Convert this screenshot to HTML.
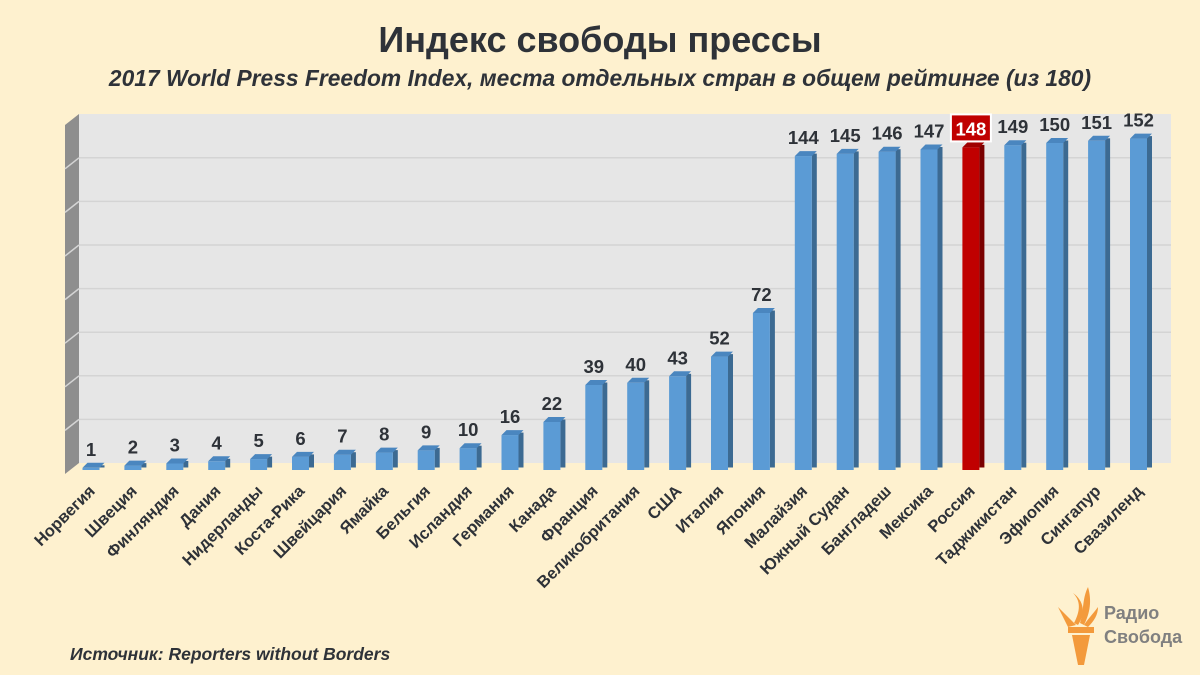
<!DOCTYPE html>
<html><head><meta charset="utf-8"><style>
html,body{margin:0;padding:0;background:#fef1cf;}
svg{display:block;font-family:"Liberation Sans","DejaVu Sans",sans-serif;}
.f{fill:#5b9bd5}.s{fill:#3c6a92}.t{fill:#4a86bf}
.v{font-size:18.5px;font-weight:bold;fill:#2e3238;text-anchor:middle}
.n{font-size:16.5px;font-weight:bold;fill:#2e3238;text-anchor:end}
.g line{stroke:#d4d4d4;stroke-width:1.5}
</style></head><body>
<svg width="1200" height="675" viewBox="0 0 1200 675" xmlns="http://www.w3.org/2000/svg">
<rect width="1200" height="675" fill="#fef1cf"/>
<text x="600" y="52" text-anchor="middle" font-size="36" font-weight="bold" fill="#2e3238">Индекс свободы прессы</text>
<text x="600" y="86" text-anchor="middle" font-size="22.8" font-weight="bold" font-style="italic" fill="#2e3238">2017 World Press Freedom Index, места  отдельных стран  в общем рейтинге  (из 180)</text>
<rect x="79" y="114" width="1092" height="349" fill="#e6e6e6"/>
<polygon points="65,125 79,114 79,463 65,474" fill="#8e8e8e"/>
<g class="g">
<line x1="79" y1="419.4" x2="1171" y2="419.4"/><line x1="65" y1="430.4" x2="79" y2="419.4"/>
<line x1="79" y1="375.8" x2="1171" y2="375.8"/><line x1="65" y1="386.8" x2="79" y2="375.8"/>
<line x1="79" y1="332.2" x2="1171" y2="332.2"/><line x1="65" y1="343.2" x2="79" y2="332.2"/>
<line x1="79" y1="288.6" x2="1171" y2="288.6"/><line x1="65" y1="299.6" x2="79" y2="288.6"/>
<line x1="79" y1="245" x2="1171" y2="245"/><line x1="65" y1="256" x2="79" y2="245"/>
<line x1="79" y1="201.4" x2="1171" y2="201.4"/><line x1="65" y1="212.4" x2="79" y2="201.4"/>
<line x1="79" y1="157.8" x2="1171" y2="157.8"/><line x1="65" y1="168.8" x2="79" y2="157.8"/>
</g>

<g transform="translate(91,467.8)"><rect class="s" x="8.5" y="-2.5" width="5" height="2.2"/><rect class="f" x="-8.5" y="0" width="17" height="2.2"/><polygon class="t" points="-8.5,0 -3.5,-5 13.5,-5 8.5,0"/><text class="v" y="-12">1</text></g>
<g transform="translate(132.9,465.6)"><rect class="s" x="8.5" y="-2.5" width="5" height="4.4"/><rect class="f" x="-8.5" y="0" width="17" height="4.4"/><polygon class="t" points="-8.5,0 -3.5,-5 13.5,-5 8.5,0"/><text class="v" y="-12">2</text></g>
<g transform="translate(174.8,463.5)"><rect class="s" x="8.5" y="-2.5" width="5" height="6.5"/><rect class="f" x="-8.5" y="0" width="17" height="6.5"/><polygon class="t" points="-8.5,0 -3.5,-5 13.5,-5 8.5,0"/><text class="v" y="-12">3</text></g>
<g transform="translate(216.7,461.3)"><rect class="s" x="8.5" y="-2.5" width="5" height="8.7"/><rect class="f" x="-8.5" y="0" width="17" height="8.7"/><polygon class="t" points="-8.5,0 -3.5,-5 13.5,-5 8.5,0"/><text class="v" y="-12">4</text></g>
<g transform="translate(258.6,459.1)"><rect class="s" x="8.5" y="-2.5" width="5" height="10.9"/><rect class="f" x="-8.5" y="0" width="17" height="10.9"/><polygon class="t" points="-8.5,0 -3.5,-5 13.5,-5 8.5,0"/><text class="v" y="-12">5</text></g>
<g transform="translate(300.5,456.9)"><rect class="s" x="8.5" y="-2.5" width="5" height="13.1"/><rect class="f" x="-8.5" y="0" width="17" height="13.1"/><polygon class="t" points="-8.5,0 -3.5,-5 13.5,-5 8.5,0"/><text class="v" y="-12">6</text></g>
<g transform="translate(342.4,454.7)"><rect class="s" x="8.5" y="-2.5" width="5" height="15.3"/><rect class="f" x="-8.5" y="0" width="17" height="15.3"/><polygon class="t" points="-8.5,0 -3.5,-5 13.5,-5 8.5,0"/><text class="v" y="-12">7</text></g>
<g transform="translate(384.3,452.6)"><rect class="s" x="8.5" y="-2.5" width="5" height="17.4"/><rect class="f" x="-8.5" y="0" width="17" height="17.4"/><polygon class="t" points="-8.5,0 -3.5,-5 13.5,-5 8.5,0"/><text class="v" y="-12">8</text></g>
<g transform="translate(426.2,450.4)"><rect class="s" x="8.5" y="-2.5" width="5" height="19.6"/><rect class="f" x="-8.5" y="0" width="17" height="19.6"/><polygon class="t" points="-8.5,0 -3.5,-5 13.5,-5 8.5,0"/><text class="v" y="-12">9</text></g>
<g transform="translate(468.1,448.2)"><rect class="s" x="8.5" y="-2.5" width="5" height="21.8"/><rect class="f" x="-8.5" y="0" width="17" height="21.8"/><polygon class="t" points="-8.5,0 -3.5,-5 13.5,-5 8.5,0"/><text class="v" y="-12">10</text></g>
<g transform="translate(510,435.1)"><rect class="s" x="8.5" y="-2.5" width="5" height="34.9"/><rect class="f" x="-8.5" y="0" width="17" height="34.9"/><polygon class="t" points="-8.5,0 -3.5,-5 13.5,-5 8.5,0"/><text class="v" y="-12">16</text></g>
<g transform="translate(551.9,422)"><rect class="s" x="8.5" y="-2.5" width="5" height="48"/><rect class="f" x="-8.5" y="0" width="17" height="48"/><polygon class="t" points="-8.5,0 -3.5,-5 13.5,-5 8.5,0"/><text class="v" y="-12">22</text></g>
<g transform="translate(593.8,385)"><rect class="s" x="8.5" y="-2.5" width="5" height="85"/><rect class="f" x="-8.5" y="0" width="17" height="85"/><polygon class="t" points="-8.5,0 -3.5,-5 13.5,-5 8.5,0"/><text class="v" y="-12">39</text></g>
<g transform="translate(635.7,382.8)"><rect class="s" x="8.5" y="-2.5" width="5" height="87.2"/><rect class="f" x="-8.5" y="0" width="17" height="87.2"/><polygon class="t" points="-8.5,0 -3.5,-5 13.5,-5 8.5,0"/><text class="v" y="-12">40</text></g>
<g transform="translate(677.6,376.3)"><rect class="s" x="8.5" y="-2.5" width="5" height="93.7"/><rect class="f" x="-8.5" y="0" width="17" height="93.7"/><polygon class="t" points="-8.5,0 -3.5,-5 13.5,-5 8.5,0"/><text class="v" y="-12">43</text></g>
<g transform="translate(719.5,356.6)"><rect class="s" x="8.5" y="-2.5" width="5" height="113.4"/><rect class="f" x="-8.5" y="0" width="17" height="113.4"/><polygon class="t" points="-8.5,0 -3.5,-5 13.5,-5 8.5,0"/><text class="v" y="-12">52</text></g>
<g transform="translate(761.4,313)"><rect class="s" x="8.5" y="-2.5" width="5" height="157"/><rect class="f" x="-8.5" y="0" width="17" height="157"/><polygon class="t" points="-8.5,0 -3.5,-5 13.5,-5 8.5,0"/><text class="v" y="-12">72</text></g>
<g transform="translate(803.3,156.1)"><rect class="s" x="8.5" y="-2.5" width="5" height="313.9"/><rect class="f" x="-8.5" y="0" width="17" height="313.9"/><polygon class="t" points="-8.5,0 -3.5,-5 13.5,-5 8.5,0"/><text class="v" y="-12">144</text></g>
<g transform="translate(845.2,153.9)"><rect class="s" x="8.5" y="-2.5" width="5" height="316.1"/><rect class="f" x="-8.5" y="0" width="17" height="316.1"/><polygon class="t" points="-8.5,0 -3.5,-5 13.5,-5 8.5,0"/><text class="v" y="-12">145</text></g>
<g transform="translate(887.1,151.7)"><rect class="s" x="8.5" y="-2.5" width="5" height="318.3"/><rect class="f" x="-8.5" y="0" width="17" height="318.3"/><polygon class="t" points="-8.5,0 -3.5,-5 13.5,-5 8.5,0"/><text class="v" y="-12">146</text></g>
<g transform="translate(929,149.5)"><rect class="s" x="8.5" y="-2.5" width="5" height="320.5"/><rect class="f" x="-8.5" y="0" width="17" height="320.5"/><polygon class="t" points="-8.5,0 -3.5,-5 13.5,-5 8.5,0"/><text class="v" y="-12">147</text></g>
<g transform="translate(970.9,147.4)"><rect fill="#7a0000" x="8.5" y="-2.5" width="5" height="322.6"/><rect fill="#c00000" x="-8.5" y="0" width="17" height="322.6"/><polygon fill="#a00000" points="-8.5,0 -3.5,-5 13.5,-5 8.5,0"/><rect x="-20" y="-33" width="40" height="27" fill="#c00000" stroke="#fff" stroke-width="2"/><text class="v" y="-12" style="fill:#fff">148</text></g>
<g transform="translate(1012.8,145.2)"><rect class="s" x="8.5" y="-2.5" width="5" height="324.8"/><rect class="f" x="-8.5" y="0" width="17" height="324.8"/><polygon class="t" points="-8.5,0 -3.5,-5 13.5,-5 8.5,0"/><text class="v" y="-12">149</text></g>
<g transform="translate(1054.7,143)"><rect class="s" x="8.5" y="-2.5" width="5" height="327"/><rect class="f" x="-8.5" y="0" width="17" height="327"/><polygon class="t" points="-8.5,0 -3.5,-5 13.5,-5 8.5,0"/><text class="v" y="-12">150</text></g>
<g transform="translate(1096.6,140.8)"><rect class="s" x="8.5" y="-2.5" width="5" height="329.2"/><rect class="f" x="-8.5" y="0" width="17" height="329.2"/><polygon class="t" points="-8.5,0 -3.5,-5 13.5,-5 8.5,0"/><text class="v" y="-12">151</text></g>
<g transform="translate(1138.5,138.6)"><rect class="s" x="8.5" y="-2.5" width="5" height="331.4"/><rect class="f" x="-8.5" y="0" width="17" height="331.4"/><polygon class="t" points="-8.5,0 -3.5,-5 13.5,-5 8.5,0"/><text class="v" y="-12">152</text></g>

<text class="n" transform="translate(96,492) rotate(-45)">Норвегия</text>
<text class="n" transform="translate(137.9,492) rotate(-45)">Швеция</text>
<text class="n" transform="translate(179.8,492) rotate(-45)">Финляндия</text>
<text class="n" transform="translate(221.7,492) rotate(-45)">Дания</text>
<text class="n" transform="translate(263.6,492) rotate(-45)">Нидерланды</text>
<text class="n" transform="translate(305.5,492) rotate(-45)">Коста-Рика</text>
<text class="n" transform="translate(347.4,492) rotate(-45)">Швейцария</text>
<text class="n" transform="translate(389.3,492) rotate(-45)">Ямайка</text>
<text class="n" transform="translate(431.2,492) rotate(-45)">Бельгия</text>
<text class="n" transform="translate(473.1,492) rotate(-45)">Исландия</text>
<text class="n" transform="translate(515,492) rotate(-45)">Германия</text>
<text class="n" transform="translate(556.9,492) rotate(-45)">Канада</text>
<text class="n" transform="translate(598.8,492) rotate(-45)">Франция</text>
<text class="n" transform="translate(640.7,492) rotate(-45)">Великобритания</text>
<text class="n" transform="translate(682.6,492) rotate(-45)">США</text>
<text class="n" transform="translate(724.5,492) rotate(-45)">Италия</text>
<text class="n" transform="translate(766.4,492) rotate(-45)">Япония</text>
<text class="n" transform="translate(808.3,492) rotate(-45)">Малайзия</text>
<text class="n" transform="translate(850.2,492) rotate(-45)">Южный Судан</text>
<text class="n" transform="translate(892.1,492) rotate(-45)">Бангладеш</text>
<text class="n" transform="translate(934,492) rotate(-45)">Мексика</text>
<text class="n" transform="translate(975.9,492) rotate(-45)">Россия</text>
<text class="n" transform="translate(1017.8,492) rotate(-45)">Таджикистан</text>
<text class="n" transform="translate(1059.7,492) rotate(-45)">Эфиопия</text>
<text class="n" transform="translate(1101.6,492) rotate(-45)">Сингапур</text>
<text class="n" transform="translate(1143.5,492) rotate(-45)">Свазиленд</text>

<text x="70" y="660" font-size="17.5" font-weight="bold" font-style="italic" fill="#2e3238">Источник: Reporters without Borders</text>
<g transform="translate(1048,585)">
<path d="M10,22 L28,40 L20,42 Z" fill="#f39a3c"/>
<path d="M25,8 C35,18 30,30 26,38 L30,40 C38,28 36,16 25,8 Z" fill="#f39a3c"/>
<path d="M40,2 C34,14 36,26 32,38 L36,40 C42,28 44,16 40,2 Z" fill="#f39a3c"/>
<path d="M50,22 C44,30 40,34 36,40 L40,42 C46,36 50,30 50,22 Z" fill="#f39a3c"/>
<rect x="20" y="42" width="26" height="6" fill="#f39a3c"/>
<polygon points="24,50 42,50 36,80 30,80" fill="#f39a3c"/>
<text x="56" y="34" font-size="18" font-weight="bold" fill="#808080">Радио</text>
<text x="56" y="58" font-size="18" font-weight="bold" fill="#808080">Свобода</text>
</g>
</svg>
</body></html>
